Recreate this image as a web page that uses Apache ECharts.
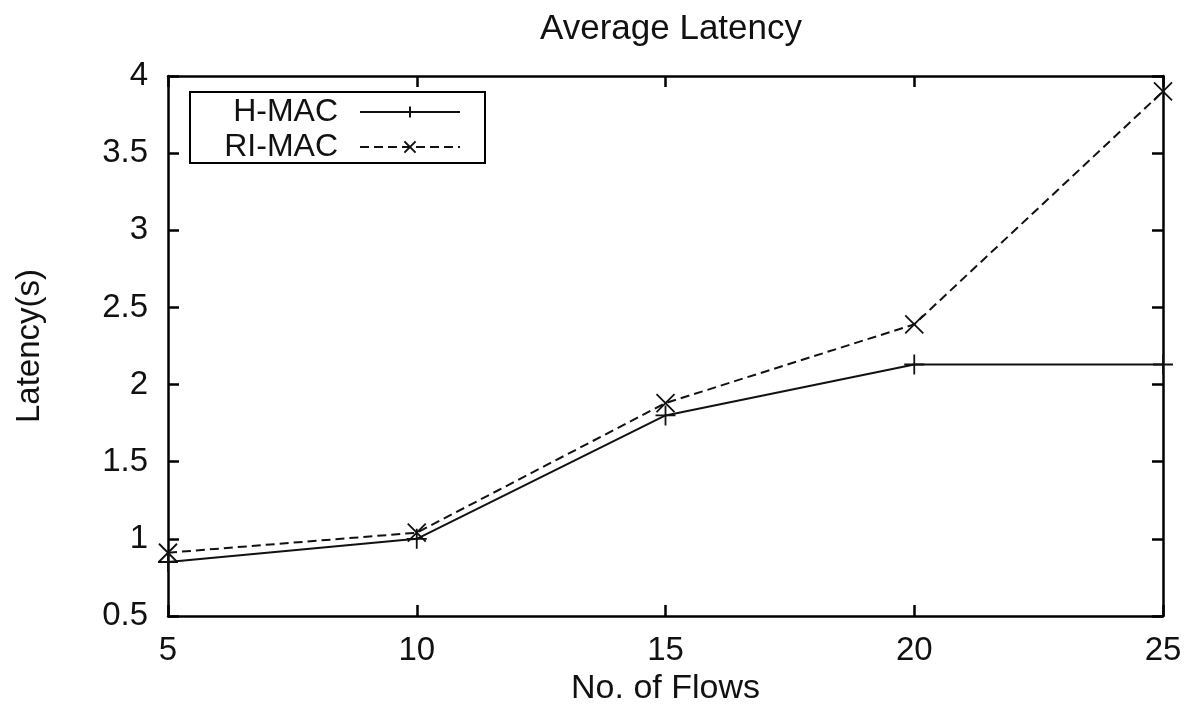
<!DOCTYPE html>
<html>
<head>
<meta charset="utf-8">
<script src="https://cdn.jsdelivr.net/npm/echarts@6/dist/echarts.min.js"></script>
<style>
  html, body { margin: 0; padding: 0; background: #fff; }
  #chart { width: 1198px; height: 720px; }
</style>
</head>
<body>
<div id="chart"></div>
<script>
// Number of flows on the x axis
const flows = [5, 10, 15, 20, 25];
// Average latency (seconds) per protocol
const hmacLatency = [0.85, 1.0, 1.8, 2.13, 2.13];
const rimacLatency = [0.91, 1.04, 1.88, 2.39, 3.90];
const seriesNames = ['H-MAC', 'RI-MAC'];
const titleText = 'Average Latency';
const xName = 'No. of Flows';
const yName = 'Latency(s)';

const FONT = '"Liberation Sans", Arial, Helvetica, sans-serif';
const plusSymbol = 'path://M0,10L20,10M10,0L10,20';
const crossSymbol = 'path://M0,0L20,20M20,0L0,20';

const pairs = (ys) => flows.map((x, i) => [x, ys[i]]);

const chart = echarts.init(document.getElementById('chart'), null, { renderer: 'canvas' });

const tickStyle = { show: true, inside: true, length: 11, lineStyle: { color: '#000', width: 2.5 } };
const axisLineStyle = { show: true, lineStyle: { color: '#000', width: 2.5 } };

chart.setOption({
  animation: false,
  backgroundColor: '#fff',
  title: {
    text: titleText,
    left: 666, textAlign: 'center',
    top: 7,
    textStyle: { fontFamily: FONT, fontSize: 35, fontWeight: 'normal', color: '#111' }
  },
  grid: { left: 168, right: 35, top: 76, bottom: 104, show: false },
  legend: {
    orient: 'vertical',
    left: 190, top: 92,
    align: 'right',
    itemWidth: 100, itemHeight: 14, itemGap: 3,
    padding: [4, 24, 0, 5],
    borderColor: '#000', borderWidth: 2,
    backgroundColor: '#fff',
    data: seriesNames,
    formatter: '{a|{name}}',
    textStyle: {
      fontFamily: FONT, fontSize: 32, color: '#111',
      rich: { a: { fontFamily: FONT, fontSize: 32, lineHeight: 28, color: '#111', width: 143, align: 'right', padding: [0, 17, 0, 0] } }
    }
  },
  xAxis: [{
    type: 'value', min: 5, max: 25, interval: 5,
    position: 'bottom',
    name: xName, nameLocation: 'middle', nameGap: 55,
    nameTextStyle: { fontFamily: FONT, fontSize: 34, color: '#111' },
    axisLine: axisLineStyle, axisTick: tickStyle,
    axisLabel: { margin: 18, fontFamily: FONT, fontSize: 33, color: '#111' },
    splitLine: { show: false }
  }, {
    type: 'value', min: 5, max: 25, interval: 5,
    position: 'top',
    axisLine: axisLineStyle, axisTick: tickStyle,
    axisLabel: { show: false }, splitLine: { show: false }
  }],
  yAxis: [{
    type: 'value', min: 0.5, max: 4, interval: 0.5,
    position: 'left',
    name: yName, nameLocation: 'middle', nameGap: 122,
    nameTextStyle: { fontFamily: FONT, fontSize: 33, color: '#111' },
    axisLine: axisLineStyle, axisTick: tickStyle,
    axisLabel: { margin: 20, fontFamily: FONT, fontSize: 33, color: '#111' },
    splitLine: { show: false }
  }, {
    type: 'value', min: 0.5, max: 4, interval: 0.5,
    position: 'right',
    axisLine: axisLineStyle, axisTick: tickStyle,
    axisLabel: { show: false }, splitLine: { show: false }
  }],
  series: [{
    name: seriesNames[0], type: 'line', clip: false,
    data: pairs(hmacLatency),
    symbol: plusSymbol, symbolSize: 20,
    lineStyle: { color: '#111', width: 2, type: 'solid' },
    itemStyle: { color: 'rgba(0,0,0,0)', borderColor: '#111', borderWidth: 1.8 },
    z: 3
  }, {
    name: seriesNames[1], type: 'line', clip: false,
    data: pairs(rimacLatency),
    symbol: crossSymbol, symbolSize: 18,
    lineStyle: { color: '#111', width: 2, type: [9, 5] },
    itemStyle: { color: 'rgba(0,0,0,0)', borderColor: '#111', borderWidth: 1.8 },
    z: 3
  }]
});
</script>
</body>
</html>
